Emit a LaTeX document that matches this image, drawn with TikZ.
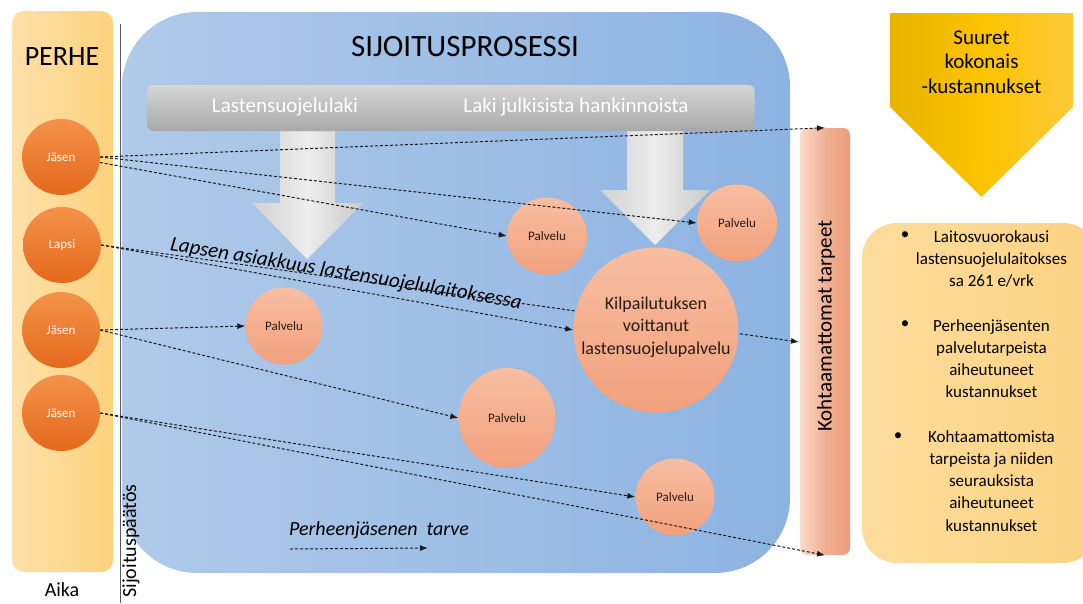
\documentclass[tikz,border=0pt]{standalone}
\usepackage{fontspec}
\setmainfont{Carlito}
\usetikzlibrary{arrows.meta,shapes.geometric,calc}

\definecolor{famL}{HTML}{FDE0AA}
\definecolor{famR}{HTML}{FCD27C}
\definecolor{procL}{HTML}{B0CAE9}
\definecolor{procR}{HTML}{8DB3E2}
\definecolor{memT}{HTML}{F4924A}
\definecolor{memB}{HTML}{E4691C}
\definecolor{svcT}{HTML}{F7BEA2}
\definecolor{svcB}{HTML}{F2A07C}
\definecolor{gapL}{HTML}{FBDCCB}
\definecolor{gapM}{HTML}{F0B094}
\definecolor{gapR}{HTML}{EE9D7C}
\definecolor{costL}{HTML}{E7B300}
\definecolor{costM}{HTML}{FCC300}
\definecolor{costR}{HTML}{FFC93A}
\definecolor{boxL}{HTML}{FDDC9C}
\definecolor{boxR}{HTML}{FCD383}
\definecolor{lineC}{HTML}{1A1A1A}
\definecolor{txtC}{HTML}{2B1A10}
\definecolor{arrL}{HTML}{B4B4B4}
\definecolor{arrM}{HTML}{EDEDED}
\definecolor{arrR}{HTML}{A6A6A6}

\newcommand{\fs}[1]{\fontsize{#1}{1.2\dimexpr#1pt\relax}\selectfont}

\pgfdeclarehorizontalshading{lawarrow}{100bp}{%
  color(0bp)=(arrL); color(50bp)=(arrM); color(100bp)=(arrR)}

\tikzset{
  panel/.style={rectangle, draw=none, inner sep=0pt},
  member/.style={ellipse, minimum width=78pt, minimum height=76pt, inner sep=0pt,
    top color=memT, bottom color=memB, text=white, font=\fontsize{13}{15}\selectfont},
  service/.style={ellipse, inner sep=0pt, top color=svcT, bottom color=svcB,
    text=txtC, font=\fontsize{13}{15}\selectfont},
  bigarrow/.style={shading=lawarrow},
  need/.style={draw=lineC, line width=1pt, dash pattern=on 3pt off 2pt,
    -{Latex[length=8pt,width=6pt]}},
  label/.style={inner sep=0pt, text=black},
}

\begin{document}
\begin{tikzpicture}[x=1pt,y=-1pt]
\useasboundingbox (0,0) rectangle (1083,603);
\clip (0,0) rectangle (1083,603);

% family column
\node[panel, minimum width=101pt, minimum height=561pt, rounded corners=12pt,
  left color=famL, right color=famR] (family) at (62.5,291.5) {};
\node[label, font=\fs{28}] (perhe) at (62,57) {PERHE};
\node[label, font=\fs{20}] (aika) at (62,590) {Aika};

% placement decision line
\coordinate (dtop) at (120,24);
\coordinate (dbot) at (120,603);
\draw[gray!70!black, line width=1pt] (dtop) -- (dbot);

% placement process panel
\node[panel, minimum width=668pt, minimum height=561pt, rounded corners=75pt,
  left color=procL, right color=procR] (process) at (456,292.5) {};
\node[label, font=\fs{31}] (ptitle) at (465,47) {SIJOITUSPROSESSI};
\node[label, rotate=90, font=\fs{20}] (decision) at (131,541) {Sijoituspäätös};

% law arrows
\path[bigarrow] (280,131) -- (335,131) -- (335,203) -- (363,203) -- (307,259)
  -- (252,203) -- (280,203) -- cycle;
\path[bigarrow] (627,131) -- (683,131) -- (683,190) -- (710,190) -- (655,245)
  -- (600,190) -- (627,190) -- cycle;

% law bar
\node[panel, minimum width=607pt, minimum height=46pt, rounded corners=6pt,
  top color=gray!32, bottom color=gray!68] (laws) at (451,108) {};
\node[label, text=white, font=\fs{21}] (law1) at (285,107) {Lastensuojelulaki};
\node[label, text=white, font=\fs{21}] (law2) at (576,107) {Laki julkisista hankinnoista};

% unmet needs bar
\node[panel, minimum width=50pt, minimum height=427pt, rounded corners=7pt,
  left color=gapL, right color=gapR, middle color=gapM] (kb) at (825,341.5) {};
\node[label, rotate=90, font=\fs{21}] (kbtext) at (826,326) {Kohtaamattomat tarpeet};
\coordinate (kmid) at (799,342);

% total costs pentagon
\path[left color=costL, right color=costR, middle color=costM]
  (890,13) -- (1073,13) -- (1073,107) -- (981.5,197) -- (890,107) -- cycle;
\node[label, align=center, font=\fontsize{21}{24.5}\selectfont] (costs) at (981.5,62)
  {Suuret\\kokonais\\-kustannukset};

% cost breakdown box
\node[panel, minimum width=236pt, minimum height=340pt, rounded corners=35pt,
  left color=boxL, right color=boxR] (costbox) at (980,393) {};
\node[label, align=center, font=\fontsize{17}{22.2}\selectfont] (costlist) at (991.5,381)
  {Laitosvuorokausi\\lastensuojelulaitokses\\sa 261 e/vrk\\[22.2pt]
   Perheenjäsenten\\palvelutarpeista\\aiheutuneet\\kustannukset\\[22.2pt]
   Kohtaamattomista\\tarpeista ja niiden\\seurauksista\\aiheutuneet\\kustannukset};
\node[label, font=\fs{17}] (b1) at (905,236) {•};
\node[label, font=\fs{17}] (b2) at (905,325) {•};
\node[label, font=\fs{17}] (b3) at (898,437) {•};

% family members
\node[member] (j1) at (61,157) {Jäsen};
\node[member] (lapsi) at (62,245) {Lapsi};
\node[member] (j3) at (61,330) {Jäsen};
\node[member] (j4) at (61,413) {Jäsen};

% child's placement line runs behind the contracted service
\draw[need] (lapsi.east) -- (kmid);

% services
\node[service, minimum width=80pt, minimum height=77pt] (p1) at (547,236) {Palvelu};
\node[service, minimum width=80pt, minimum height=77pt] (p2) at (737,223) {Palvelu};
\node[service, minimum width=77pt, minimum height=77pt] (p3) at (284,326) {Palvelu};
\node[service, minimum width=97pt, minimum height=100pt] (p4) at (507,418) {Palvelu};
\node[service, minimum width=79pt, minimum height=77pt] (p5) at (675,497) {Palvelu};
\node[service, circle, minimum size=165pt] (big) at (656,330) {};
\node[label, text=txtC, align=center, font=\fontsize{18}{22.5}\selectfont] (bigtext)
  at (656,327) {Kilpailutuksen\\voittanut\\lastensuojelupalvelu};

% needs of family members
\draw[need] (j1.east) -- (kb.north);
\draw[need] (j1.east) -- (p2.west);
\draw[need] (j1.-8) -- (p1.west);
\draw[need] (lapsi.east) -- (big.west);
\draw[need] (j3.east) -- (p3.west);
\draw[need] (j3.east) -- (p4.west);
\draw[need] (j4.east) -- (p5.west);
\draw[need] (j4.east) -- (kb.south);

% child's customer relationship label
\node[label, rotate=-9.5, font=\itshape\fs{21}] (childlbl) at (346,274)
  {Lapsen asiakkuus lastensuojelulaitoksessa};

% legend
\node[label, font=\itshape\fs{20}] (legend) at (379,530) {Perheenjäsenen\ \ tarve};
\coordinate (lgs) at (290,549);
\coordinate (lge) at (428,548);
\draw[need] (lgs) -- (lge);
\end{tikzpicture}
\end{document}
